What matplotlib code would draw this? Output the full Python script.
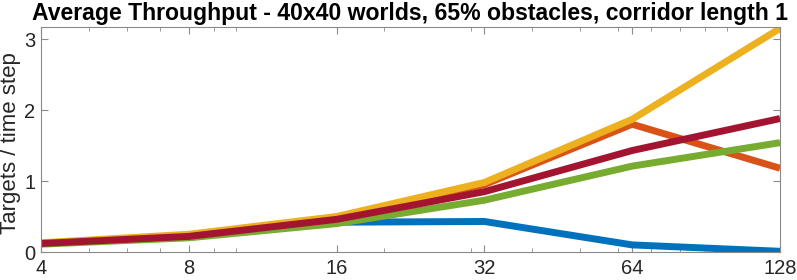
import matplotlib
matplotlib.use("Agg")
import matplotlib.pyplot as plt
from matplotlib.ticker import FixedLocator, NullFormatter

plt.rcParams['font.family'] = ['Liberation Sans', 'DejaVu Sans']

agents = [4, 8, 16, 32, 64, 128]
blue = [0.12, 0.22, 0.42, 0.43, 0.10, 0.01]
orange = [0.12, 0.24, 0.48, 0.95, 1.80, 1.18]
yellow = [0.13, 0.25, 0.50, 0.98, 1.87, 3.15]
green = [0.11, 0.20, 0.40, 0.73, 1.21, 1.54]
darkred = [0.12, 0.22, 0.46, 0.85, 1.43, 1.88]

series = [blue, orange, yellow, green, darkred]
colors = ['#0072BD', '#D95319', '#EDB120', '#77AC30', '#A2142F']

fig = plt.figure(figsize=(7.97, 2.8), dpi=100)
ax = fig.add_axes([41/797, 1-252/280, (780-41)/797, (252-27)/280])
for s, c in zip(series, colors):
    ax.plot(agents, s, color=c, lw=5, solid_joinstyle='miter', solid_capstyle='butt')

ax.set_xscale('log', base=2)
ax.set_xlim(4, 128)
ax.set_ylim(0, 3.17)
ax.xaxis.set_major_locator(FixedLocator(agents))
ax.set_xticklabels([str(a) for a in agents])
ax.xaxis.set_minor_locator(FixedLocator([5, 6, 7, 9, 10, 20, 30, 40, 50, 60, 70, 80, 90, 100]))
ax.xaxis.set_minor_formatter(NullFormatter())
ax.set_yticks([0, 1, 2, 3])
ax.tick_params(which='both', direction='in', top=True, right=True, colors='#8a8a8a',
               labelcolor='#262626', labelsize=14.5)
ax.tick_params(which='major', length=5)
ax.tick_params(which='minor', length=3)
ax.tick_params(axis='x', pad=5)
ax.tick_params(axis='y', pad=4)
for sp in ax.spines.values():
    sp.set_color('#8a8a8a')
    sp.set_linewidth(0.8)
ax.set_ylabel('Targets / time step', fontsize=16, color='#262626')
ax.yaxis.set_label_coords(-0.027, 0.482)
ax.set_title('Average Throughput - 40x40 worlds, 65% obstacles, corridor length 1',
             fontsize=16.6, fontweight='bold', pad=5)

fig.savefig('out.png', dpi=100)
